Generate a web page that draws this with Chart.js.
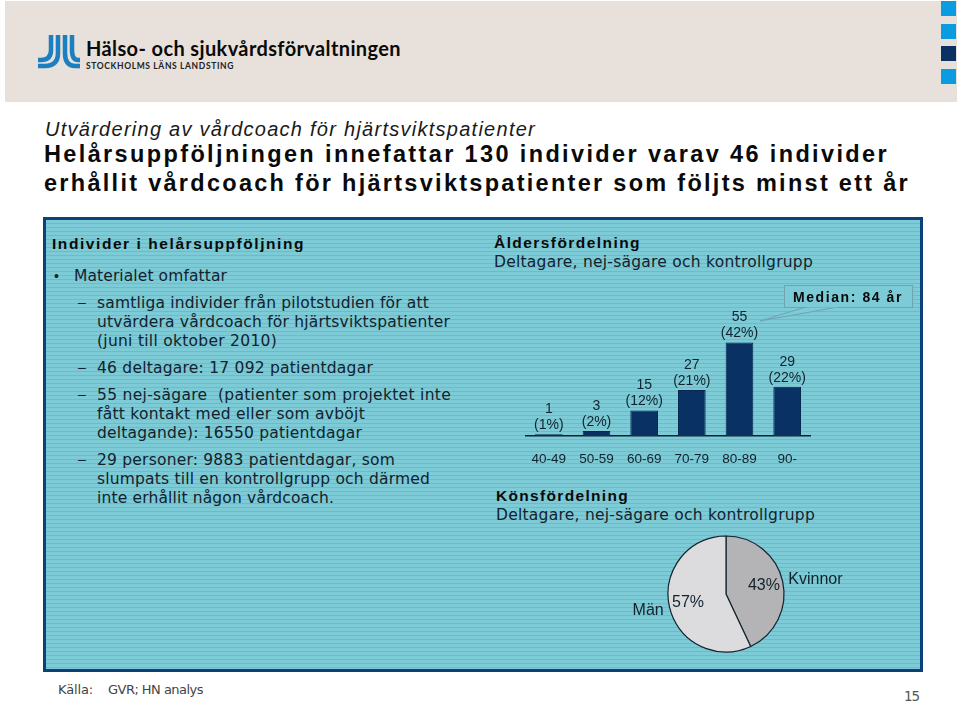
<!DOCTYPE html>
<html lang="sv">
<head>
<meta charset="utf-8">
<title>Helårsuppföljning</title>
<script src="https://cdn.jsdelivr.net/npm/chart.js@4"></script>
<style>
  html, body { margin: 0; padding: 0; background: #fff; }
  #page { position: relative; width: 960px; height: 703px; overflow: hidden; font-family: "DejaVu Sans", sans-serif; color: #12222e; }
  #header { position: absolute; left: 5px; top: 1px; width: 952px; height: 101px; background: #e8e0da; }
  .sq { position: absolute; left: 941px; width: 15px; height: 15px; background: #0a9be0; }
  #panel {
    position: absolute; left: 43px; top: 217px; width: 874px; height: 449px;
    border: 3px solid #0d3f78;
    background: repeating-linear-gradient(to bottom, #7ccbd6 0, #7ccbd6 3px, #69bccb 3px, #69bccb 4px);
  }
  .t { position: absolute; white-space: pre; line-height: 1; transform: translateY(-50%); }
  canvas { position: absolute; }
  svg { position: absolute; left: 0; top: 0; }
</style>
</head>
<body>
<div id="page">
  <div id="header"></div>
  <div class="sq" style="top:1px"></div>
  <div class="sq" style="top:24px"></div>
  <div class="sq" style="top:46px;background:#0a3163"></div>
  <div class="sq" style="top:69px"></div>
  <div id="panel"></div>
  <svg width="960" height="703" id="logo">
    <g fill="none" stroke="#1b7fc0" stroke-width="4.5">
      <path d="M51 35 V50 Q51 60 41 60 H38"/>
      <path d="M58 35 V53 Q58 66 45 66 H38"/>
      <path d="M65 35 V53 Q65 66 75 66 H80"/>
      <path d="M72 35 V50 Q72 60 78 60 H80"/>
    </g>
    <polygon points="806,307 838,307 760,321" fill="#7ccbd6" stroke="#6fa3b0" stroke-width="1"/>
    <rect x="784.5" y="285.5" width="128" height="22" fill="#7ccbd6" stroke="#6fa3b0" stroke-width="1"/>
    <rect x="807" y="306" width="30" height="1.5" fill="#7ccbd6"/>
  </svg>
  <canvas id="ageChart" width="286" height="170" style="left:525px;top:300px"></canvas>
  <canvas id="genderChart" width="240" height="124" style="left:606px;top:532px"></canvas>
</div>

<script>
// Data lasta fran bilden
const ageGroups = ["40-49", "50-59", "60-69", "70-79", "80-89", "90-"];
const ageCounts = [1, 3, 15, 27, 55, 29];
const agePercent = ["(1%)", "(2%)", "(12%)", "(21%)", "(42%)", "(22%)"];
const genderLabels = ["Kvinnor", "Män"];
const genderPercent = [43, 57];

const page = document.getElementById("page");
const measure = document.createElement("canvas").getContext("2d");

// Lägger en textrad och anpassar teckenavståndet till bredden i originalet
function put(text, x, y, width, font, color) {
  const el = document.createElement("div");
  el.className = "t";
  el.textContent = text;
  el.style.left = x + "px";
  el.style.top = y + "px";
  el.style.font = font;
  el.style.lineHeight = "1";
  if (color) el.style.color = color;
  measure.font = font;
  const natural = measure.measureText(text).width;
  el.style.letterSpacing = ((width - natural) / text.length).toFixed(3) + "px";
  page.appendChild(el);
}

const arial = '"Liberation Sans"';
const verdana = '"DejaVu Sans"';
const black = "#0a0a0a";

// Logotyp
put("Hälso- och sjukvårdsförvaltningen", 86, 48, 315, 'bold 20px Lato', black);
put("STOCKHOLMS LÄNS LANDSTING", 86, 65.5, 148, 'bold 8.5px Lato', "#222");

// Rubriker
put("Utvärdering av vårdcoach för hjärtsviktspatienter", 45, 129, 491, "italic 20px " + arial, "#1a1a1a");
put("Helårsuppföljningen innefattar 130 individer varav 46 individer", 44, 155, 845, "bold 23.5px " + arial, black);
put("erhållit vårdcoach för hjärtsviktspatienter som följts minst ett år", 44, 184, 866, "bold 23.5px " + arial, black);

// Vänster kolumn
put("Individer i helårsuppföljning", 52, 244, 253, "bold 15.5px " + arial, black);
put("•", 54, 276, 7, "14px " + arial);
put("Materialet omfattar", 74, 277, 153, "15.5px " + verdana);
const bodyLines = [
  ["samtliga individer från pilotstudien för att", 304, 332, true],
  ["utvärdera vårdcoach för hjärtsviktspatienter", 323, 353],
  ["(juni till oktober 2010)", 342, 180],
  ["46 deltagare: 17 092 patientdagar", 369, 276, true],
  ["55 nej-sägare  (patienter som projektet inte", 396, 354, true],
  ["fått kontakt med eller som avböjt", 415, 268],
  ["deltagande): 16550 patientdagar", 434, 265],
  ["29 personer: 9883 patientdagar, som", 461, 298, true],
  ["slumpats till en kontrollgrupp och därmed", 480, 333],
  ["inte erhållit någon vårdcoach.", 499, 237]
];
bodyLines.forEach(line => {
  put(line[0], 97, line[1], line[2], "15.5px " + verdana);
  if (line[3]) put("–", 78, line[1] - 2, 8, "14px " + arial);
});

// Höger kolumn
put("Åldersfördelning", 494, 243, 147, "bold 15.5px " + arial, black);
put("Deltagare, nej-sägare och kontrollgrupp", 494, 263, 319, "15.5px " + verdana);
put("Median: 84 år", 793, 297, 110, "bold 14px " + arial, black);
put("Könsfördelning", 496, 496, 133, "bold 15.5px " + arial, black);
put("Deltagare, nej-sägare och kontrollgrupp", 496, 516, 319, "15.5px " + verdana);

// Källa och sidnummer
put("Källa:", 58, 689, 35, "13px " + verdana, "#444");
put("GVR; HN analys", 108, 689, 95, "13px " + verdana, "#444");
put("15", 904, 697, 15, "13.5px " + verdana, "#555");

// Två rader ovanför varje stapel: antal och andel
const barLabels = {
  id: "barLabels",
  afterDatasetsDraw(chart) {
    const ctx = chart.ctx;
    ctx.save();
    ctx.font = "14px " + arial;
    ctx.fillStyle = "#12222e";
    ctx.textAlign = "center";
    ctx.textBaseline = "middle";
    chart.getDatasetMeta(0).data.forEach((bar, i) => {
      ctx.fillText(String(ageCounts[i]), bar.x, bar.y - 25);
      ctx.fillText(agePercent[i], bar.x, bar.y - 9);
    });
    ctx.restore();
  }
};

new Chart(document.getElementById("ageChart"), {
  type: "bar",
  data: {
    labels: ageGroups,
    datasets: [{
      data: ageCounts,
      backgroundColor: "#0a3163",
      borderColor: "#06264d",
      borderWidth: 1,
      barPercentage: 0.58,
      categoryPercentage: 1
    }]
  },
  options: {
    responsive: false,
    animation: false,
    devicePixelRatio: 1,
    layout: { padding: 0 },
    plugins: { legend: { display: false }, tooltip: { enabled: false } },
    scales: {
      x: {
        grid: { display: false },
        border: { color: "#12222e", width: 1.5 },
        ticks: { color: "#12222e", font: { family: arial, size: 13.5 }, padding: 7, maxRotation: 0, autoSkip: false },
        afterFit(scale) { scale.height = 34; scale.paddingLeft = 0; scale.paddingRight = 0; }
      },
      y: { display: false, min: 0, max: 80 }
    }
  },
  plugins: [barLabels]
});

// Procent inne i cirkeln och namn utanför
const pieLabels = {
  id: "pieLabels",
  afterDatasetsDraw(chart) {
    const ctx = chart.ctx;
    ctx.save();
    ctx.font = "16px " + arial;
    ctx.fillStyle = "#12222e";
    ctx.textBaseline = "middle";
    chart.getDatasetMeta(0).data.forEach((arc, i) => {
      const p = arc.getProps(["startAngle", "endAngle", "outerRadius", "x", "y"]);
      const mid = (p.startAngle + p.endAngle) / 2;
      const cos = Math.cos(mid);
      const sin = Math.sin(mid);
      ctx.textAlign = "center";
      ctx.fillText(genderPercent[i] + "%", p.x + cos * p.outerRadius * 0.67, p.y + sin * p.outerRadius * 0.67);
      ctx.textAlign = cos > 0 ? "left" : "right";
      ctx.fillText(genderLabels[i], p.x + cos * p.outerRadius * 1.1, p.y + sin * p.outerRadius * 1.1 + (cos < 0 ? 3 : 0));
    });
    ctx.restore();
  }
};

new Chart(document.getElementById("genderChart"), {
  type: "pie",
  data: {
    labels: genderLabels,
    datasets: [{
      data: genderPercent,
      backgroundColor: ["#b4b4b6", "#dcdcde"],
      borderColor: "#12222e",
      borderWidth: 1.2,
      radius: 58
    }]
  },
  options: {
    responsive: false,
    animation: false,
    devicePixelRatio: 1,
    plugins: { legend: { display: false }, tooltip: { enabled: false } }
  },
  plugins: [pieLabels]
});
</script>
</body>
</html>
